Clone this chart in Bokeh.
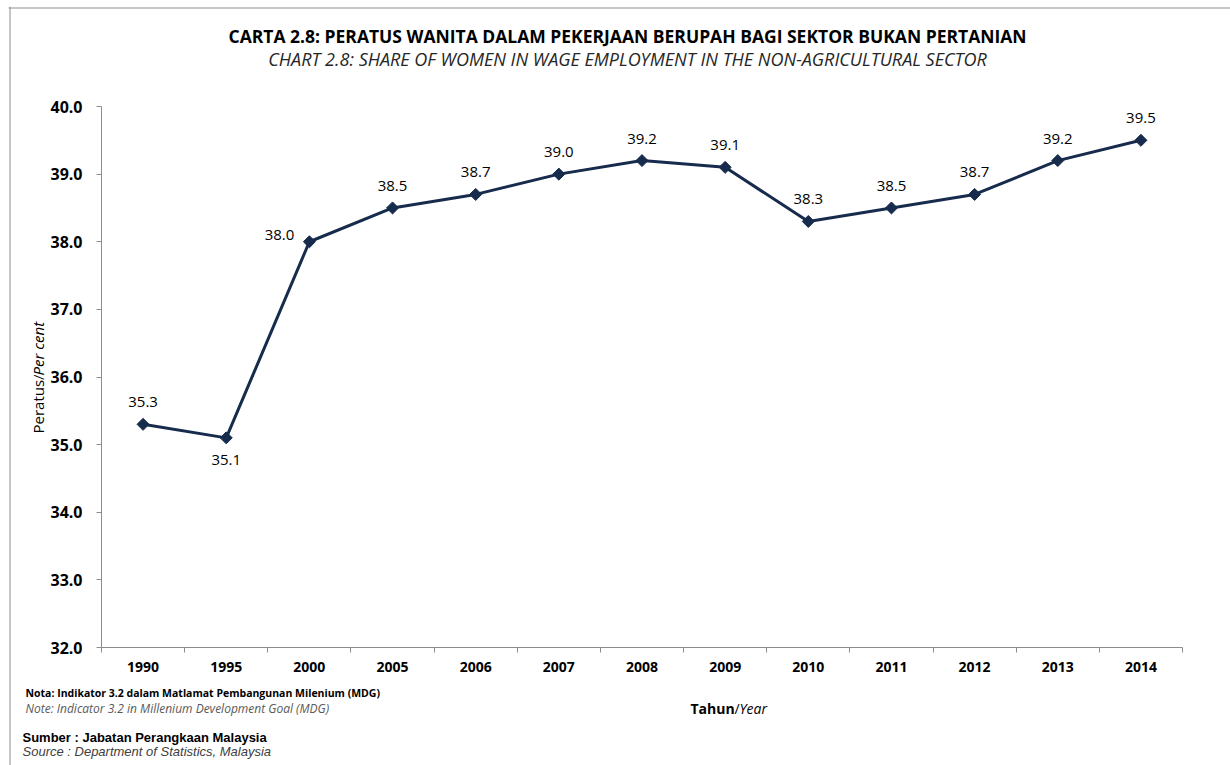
from bokeh.plotting import figure
from bokeh.models import (Range1d, FixedTicker, NumeralTickFormatter, Label, ColumnDataSource,
                          LinearAxis, Span)
from bokeh.embed import file_html
from bokeh.resources import INLINE
import math

years = ["1990", "1995", "2000", "2005", "2006", "2007", "2008", "2009", "2010", "2011", "2012", "2013", "2014"]
values = [35.3, 35.1, 38.0, 38.5, 38.7, 39.0, 39.2, 39.1, 38.3, 38.5, 38.7, 39.2, 39.5]
y_ticks = [32, 33, 34, 35, 36, 37, 38, 39, 40]
y_min, y_max = 32, 40

NAVY = "#172B4D"
FONT = "Open Sans"
GRAY = "#8c8c8c"

# page geometry (pixels): canvas, frame origin, and the axes box
W, H = 1230, 765
BL, BT = 8, 6                         # frame origin
FL, FR, FT, FB = 101, 1182, 106, 647  # axes box

n = len(years)
px_x = (FR - FL) / n
px_y = (FB - FT) / (y_max - y_min)
x0 = -0.5 - (FL - BL) / px_x
y1 = y_max + (FT - BT) / px_y
x_range = Range1d(x0, n - 0.5 + (W - FR) / px_x)
y_range = Range1d(y_min - (H - FB) / px_y, y1)

p = figure(width=W, height=H, output_backend="svg", toolbar_location=None,
           x_range=x_range, y_range=y_range, title=None,
           x_axis_location=None, y_axis_location=None,
           min_border_left=BL, min_border_top=BT, min_border_right=0, min_border_bottom=0)
p.outline_line_color = None
p.xgrid.visible = False
p.ygrid.visible = False
p.background_fill_color = "#ffffff"
p.border_fill_color = "#ffffff"

# chart-area border (left and top edges)
p.add_layout(Span(location=x0 + 1.5 / px_x, dimension="height", line_color=GRAY, line_width=1))
p.add_layout(Span(location=y1 - 1.5 / px_y, dimension="width", line_color=GRAY, line_width=1))

xs = list(range(n))

xaxis = LinearAxis(fixed_location=y_min, bounds=(-0.5, n - 0.5))
xaxis.ticker = FixedTicker(ticks=xs, minor_ticks=[i - 0.5 for i in range(n + 1)])
xaxis.major_label_overrides = {i: y for i, y in enumerate(years)}
xaxis.major_tick_out = 0
xaxis.major_tick_in = 0
xaxis.minor_tick_out = 5
xaxis.minor_tick_in = 0
xaxis.minor_tick_line_color = GRAY
xaxis.axis_line_color = GRAY
xaxis.major_label_text_font = FONT
xaxis.major_label_text_font_style = "bold"
xaxis.major_label_text_font_size = "14px"
xaxis.major_label_text_color = "#000000"
xaxis.major_label_standoff = 9
p.add_layout(xaxis, "below")

yaxis = LinearAxis(fixed_location=-0.5, bounds=(y_min, y_max))
yaxis.ticker = FixedTicker(ticks=y_ticks)
yaxis.formatter = NumeralTickFormatter(format="0.0")
yaxis.major_tick_out = 5
yaxis.major_tick_in = 0
yaxis.minor_tick_line_color = None
yaxis.major_tick_line_color = GRAY
yaxis.axis_line_color = GRAY
yaxis.major_label_text_font = FONT
yaxis.major_label_text_font_style = "bold"
yaxis.major_label_text_font_size = "16px"
yaxis.major_label_text_color = "#000000"
yaxis.major_label_standoff = 14
p.add_layout(yaxis, "left")

src = ColumnDataSource(dict(x=xs, y=values))
p.line("x", "y", source=src, line_color=NAVY, line_width=3)
p.scatter("x", "y", source=src, marker="square", angle=math.pi / 4, size=8.5,
          fill_color=NAVY, line_color=NAVY)

for i, v in enumerate(values):
    txt = "%.1f" % v
    if i == 1:
        xo, yo, al = 0, -22, "center"
    elif i == 2:
        xo, yo, al = -15, 7, "right"
    else:
        xo, yo, al = 0, 22, "center"
    p.add_layout(Label(x=i, y=v, text=txt, x_offset=xo, y_offset=yo, text_align=al,
                       text_baseline="middle", text_font=FONT, text_font_size="15px",
                       text_color="#000000"))

def lab(X, Y, text, size, style="normal", color="#000000", align="left", angle=0, font=FONT):
    # X, Y: page pixels from top-left; screen units are frame-relative (from bottom-left)
    p.add_layout(Label(x=X - BL, y=H - Y, x_units="screen", y_units="screen", text=text,
                       text_font=font, text_font_size=size, text_font_style=style,
                       text_color=color, text_align=align, text_baseline="middle", angle=angle))

# titles
lab(627, 35, "CARTA 2.8: PERATUS WANITA DALAM PEKERJAAN BERUPAH BAGI SEKTOR BUKAN PERTANIAN", "17.5px", "bold", align="center")
lab(627, 58, "CHART 2.8: SHARE OF WOMEN IN WAGE EMPLOYMENT IN THE NON-AGRICULTURAL SECTOR", "18px", "italic", "#262626", align="center")

# y axis title
lab(37, 433, "Peratus/", "15px", "normal", angle=math.pi / 2)
lab(37, 375, "Per cent", "15px", "italic", angle=math.pi / 2)

# x axis title
lab(690, 708, "Tahun", "14px", "bold")
lab(734, 708, "/", "14px", "normal")
lab(739, 708, "Year", "14px", "italic")

# notes
lab(25, 692, "Nota: Indikator 3.2 dalam Matlamat Pembangunan Milenium (MDG)", "10.5px", "bold")
lab(25, 708, "Note: Indicator 3.2 in Millenium Development Goal (MDG)", "12px", "italic", "#595959")
lab(22, 737, "Sumber : Jabatan Perangkaan Malaysia", "13px", "bold", font="Liberation Sans")
lab(22, 751, "Source :  Department of Statistics, Malaysia", "13px", "italic", "#404040", font="Liberation Sans")

open("out.html", "w").write(file_html(p, INLINE))
